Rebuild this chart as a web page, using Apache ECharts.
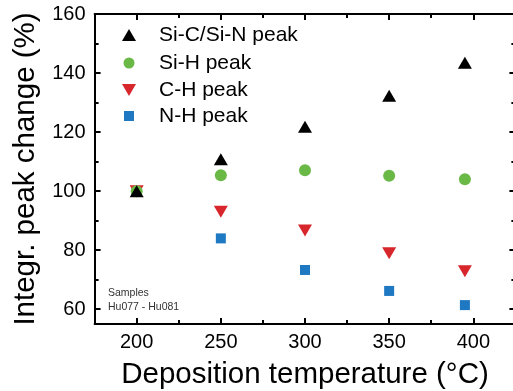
<!DOCTYPE html>
<html>
<head>
<meta charset="utf-8">
<script src="https://cdn.jsdelivr.net/npm/echarts@6/dist/echarts.min.js"></script>
<style>html,body{margin:0;padding:0;background:#fff}#c{width:513px;height:391px}</style>
</head>
<body>
<div id="c"></div>
<script>
// ---- data ----
var temperatures = [200, 250, 300, 350, 395];
var siCSiN = [100, 110.8, 121.8, 132.3, 143.5];
var siH = [100, 105.4, 107.1, 105.2, 104.0];
var cH = [100, 93.0, 86.7, 79.0, 72.9];
var nH = [100, 84.0, 73.3, 66.2, 61.4];
var xMajorTicks = [200, 250, 300, 350, 400];
var xMinorTicks = [225, 275, 325, 375];
var yMajorTicks = [60, 80, 100, 120, 140, 160];
var yMinorTicks = [70, 90, 110, 130, 150];
var seriesNames = ['Si-C/Si-N peak', 'Si-H peak', 'C-H peak', 'N-H peak'];

function pairs(xs, ys) { return xs.map(function (x, i) { return [x, ys[i]]; }); }

var FONT = '"Liberation Sans", Arial, Helvetica, sans-serif';
var UP = 'path://M7,0L14,12L0,12Z';
var DOWN = 'path://M0,0L14,0L7,12Z';
var SQ = 'path://M0,0L10,0L10,10L0,10Z';
var C_BLACK = '#000000', C_GREEN = '#6ab947', C_RED = '#d7262c', C_BLUE = '#1e78c2';

function xAx(pos, ticks, len, main) {
  return {
    type: 'value', min: 175, max: 425, position: pos,
    axisLine: { show: main, onZero: false, lineStyle: { color: '#000', width: 2 } },
    axisTick: { show: true, inside: true, length: len, customValues: ticks, lineStyle: { color: '#000', width: 2 } },
    axisLabel: { show: main && pos === 'bottom', customValues: ticks, fontSize: 20, color: '#000', fontFamily: FONT, margin: 8 },
    splitLine: { show: false },
    name: (main && pos === 'bottom') ? 'Deposition temperature (°C)' : '',
    nameLocation: 'middle', nameGap: 36,
    nameTextStyle: { fontSize: 29.5, color: '#000', fontFamily: FONT }
  };
}
function yAx(pos, ticks, len, main) {
  return {
    type: 'value', min: 55, max: 160, position: pos,
    axisLine: { show: main && pos === 'left', onZero: false, lineStyle: { color: '#000', width: 2 } },
    axisTick: { show: true, inside: true, length: len, customValues: ticks, lineStyle: { color: '#000', width: 2 } },
    axisLabel: { show: main && pos === 'left', customValues: ticks, fontSize: 20, color: '#000', fontFamily: FONT, margin: 9 },
    splitLine: { show: false },
    name: (main && pos === 'left') ? 'Integr. peak change (%)' : '',
    nameLocation: 'middle', nameGap: 38,
    nameTextStyle: { fontSize: 29.5, color: '#000', fontFamily: FONT }
  };
}

function legendFor(name, icon, h, w, centerY) {
  return {
    orient: 'vertical', left: 129 - w / 2, top: centerY - 12, padding: 0,
    itemWidth: 50, itemHeight: h, itemGap: 0,
    data: [{ name: name, icon: icon }],
    textStyle: { fontSize: 21, lineHeight: 24, color: '#000', fontFamily: FONT }
  };
}

var chart = echarts.init(document.getElementById('c'), null, { renderer: 'canvas' });
chart.setOption({
  animation: false,
  backgroundColor: '#fff',
  grid: { left: 94.6, right: -2.4, top: 14, bottom: 67, containLabel: false, outerBoundsMode: 'none' },
  xAxis: [
    xAx('bottom', xMajorTicks, 6, true),
    xAx('bottom', xMinorTicks, 4, false),
    xAx('top', xMajorTicks, 6, true),
    xAx('top', xMinorTicks, 4, false)
  ],
  yAxis: [
    yAx('left', yMajorTicks, 6, true),
    yAx('left', yMinorTicks, 4, false),
    yAx('right', yMajorTicks, 6, true),
    yAx('right', yMinorTicks, 4, false)
  ],
  legend: [
    legendFor(seriesNames[0], UP, 12, 14, 35),
    legendFor(seriesNames[1], 'circle', 11, 11, 63),
    legendFor(seriesNames[2], DOWN, 12, 14, 90),
    legendFor(seriesNames[3], SQ, 10, 10, 116)
  ],
  series: [
    { name: seriesNames[3], type: 'scatter', symbol: SQ, symbolSize: [10, 10], itemStyle: { color: C_BLUE, opacity: 1 }, data: pairs(temperatures, nH) },
    { name: seriesNames[2], type: 'scatter', symbol: DOWN, symbolSize: [14, 12], itemStyle: { color: C_RED, opacity: 1 }, data: pairs(temperatures, cH) },
    { name: seriesNames[1], type: 'scatter', symbol: 'circle', symbolSize: 12, itemStyle: { color: C_GREEN, opacity: 1 }, data: pairs(temperatures, siH) },
    { name: seriesNames[0], type: 'scatter', symbol: UP, symbolSize: [14, 12], itemStyle: { color: C_BLACK, opacity: 1 }, data: pairs(temperatures, siCSiN) }
  ],
  graphic: [
    { type: 'text', left: 108, top: 286, style: { text: 'Samples\nHu077 - Hu081', fontSize: 10.5, lineHeight: 14, fill: '#333', fontFamily: FONT } }
  ]
});
</script>
</body>
</html>
